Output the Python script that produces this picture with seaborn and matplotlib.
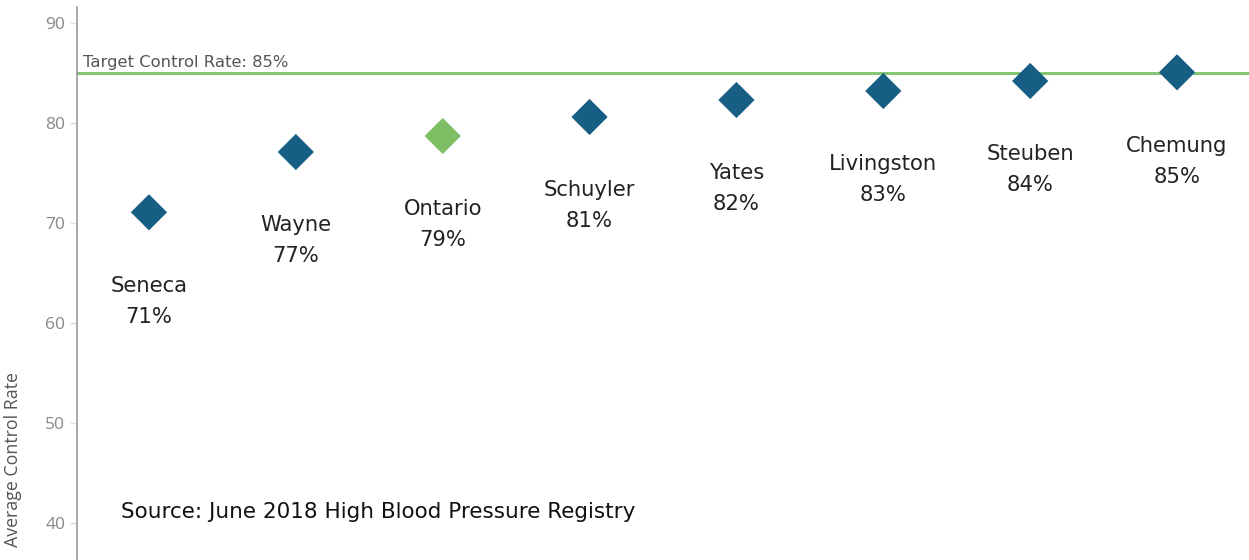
import matplotlib
matplotlib.use('Agg')
import matplotlib.pyplot as plt
import pandas as pd
import seaborn as sns

counties = ['Seneca', 'Wayne', 'Ontario', 'Schuyler', 'Yates', 'Livingston', 'Steuben', 'Chemung']
rates = [71.07, 77.1, 78.7, 80.6, 82.3, 83.2, 84.2, 85.07]
highlight = ['other', 'other', 'Ontario', 'other', 'other', 'other', 'other', 'other']
target = 85
yticks = [40, 50, 60, 70, 80, 90]

df = pd.DataFrame({'county': counties, 'rate': rates, 'group': highlight})

sns.set_style('white')
plt.rcParams['font.family'] = ['DejaVu Sans']

fig = plt.figure(figsize=(12.49, 5.6), dpi=100)
ax = fig.add_axes([77 / 1249, 0, 1172 / 1249, 553 / 560])

# target line
ax.axhline(target, color='#7ac36a', linewidth=2, zorder=1)
ax.text(-0.45, target + 0.3, 'Target Control Rate: 85%', fontsize=11.8,
        color='#555555', va='bottom', ha='left')

sns.scatterplot(data=df, x='county', y='rate', hue='group',
                palette={'other': '#175e85', 'Ontario': '#7dbe64'},
                marker='D', s=340, linewidth=0, legend=False, ax=ax, zorder=3)

# labels under each marker
for i, (c, r) in enumerate(zip(counties, rates)):
    ax.annotate(f'{c}\n{round(r)}%', (i, r), xytext=(0, -64), textcoords='offset points',
                ha='center', va='center', fontsize=15.2, color='#222222', linespacing=1.7)

ax.text(0.0375, 0.087, 'Source: June 2018 High Blood Pressure Registry', transform=ax.transAxes,
        fontsize=15.5, color='#111111', ha='left', va='center')

ax.set_xlim(-0.49, 7.49)
ax.set_ylim(36.3, 91.6)
ax.set_yticks(yticks)
ax.set_xticks([])
ax.set_xlabel('')
ax.set_ylabel('Average Control Rate', fontsize=12.8, color='#555555', family='Open Sans')
ax.yaxis.set_label_coords(-0.047, 0.181)
ax.tick_params(axis='y', colors='#e0e0e0', labelcolor='#888888', labelsize=12.5,
               length=5, width=1, direction='out', left=True)
for lab in ax.get_yticklabels():
    lab.set_family('Open Sans')

sns.despine(ax=ax, top=True, right=True, bottom=True)
ax.spines['left'].set_color('#999999')
ax.spines['left'].set_linewidth(1.2)

fig.savefig('out.png', dpi=100)
